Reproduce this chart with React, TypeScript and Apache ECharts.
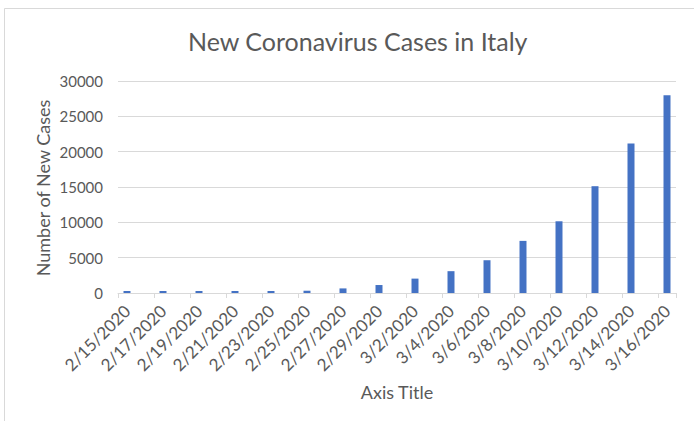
import React, { useEffect, useRef } from "react";
import * as echarts from "echarts";

const dates: string[] = [
  "2/15/2020", "2/16/2020", "2/17/2020", "2/18/2020", "2/19/2020", "2/20/2020",
  "2/21/2020", "2/22/2020", "2/23/2020", "2/24/2020", "2/25/2020", "2/26/2020",
  "2/27/2020", "2/28/2020", "2/29/2020", "3/1/2020", "3/2/2020", "3/3/2020",
  "3/4/2020", "3/5/2020", "3/6/2020", "3/7/2020", "3/8/2020", "3/9/2020",
  "3/10/2020", "3/11/2020", "3/12/2020", "3/13/2020", "3/14/2020", "3/15/2020",
  "3/16/2020",
];

const newCases: (number | null)[] = [
  3, null, 3, null, 3, null, 20, null, 155, null, 322, null, 650, null, 1128, null,
  2036, null, 3089, null, 4636, null, 7375, null, 10149, null, 15113, null, 21157, null,
  27980,
];

const chartTitle = "New Coronavirus Cases in Italy";
const yAxisTitle = "Number of New Cases";
const xAxisTitle = "Axis Title";

const FONT = "Lato";
const TEXT = "#595959";
const GRID = "#d9d9d9";

export default function App() {
  const ref = useRef<HTMLDivElement>(null);
  useEffect(() => {
    if (!ref.current) return;
    const chart = echarts.init(ref.current, null, { renderer: "svg" });
    chart.setOption({
      animation: false,
      backgroundColor: "#ffffff",
      textStyle: { fontFamily: FONT },
      title: {
        text: chartTitle,
        left: 183,
        top: 23,
        textStyle: { fontFamily: FONT, fontSize: 25, fontWeight: "normal", color: TEXT },
      },
      grid: { left: 118, right: 18, top: 81, bottom: 128 },
      xAxis: {
        type: "category",
        data: dates,
        boundaryGap: true,
        axisLine: { lineStyle: { color: GRID, width: 1 } },
        axisTick: { show: true, interval: 1, length: 5, lineStyle: { color: GRID } },
        axisLabel: {
          interval: 1,
          rotate: 45,
          fontFamily: FONT,
          fontSize: 17,
          color: TEXT,
          margin: 15,
        },
      },
      yAxis: {
        type: "value",
        min: 0,
        max: 30000,
        interval: 5000,
        axisLine: { show: false },
        axisTick: { show: false },
        splitLine: { lineStyle: { color: GRID, width: 1 } },
        axisLabel: {
          fontFamily: FONT,
          fontSize: 15,
          color: TEXT,
          margin: 15,
          formatter: (v: number) => String(v),
        },
      },
      series: [
        {
          type: "bar",
          data: newCases,
          barWidth: 7,
          barMinHeight: 2,
          itemStyle: { color: "#4472C4" },
        },
      ],
      graphic: [
        {
          type: "line",
          shape: { x1: 4.5, y1: 8.5, x2: 694, y2: 8.5 },
          style: { stroke: GRID, lineWidth: 1 },
        },
        {
          type: "line",
          shape: { x1: 4.5, y1: 8.5, x2: 4.5, y2: 421 },
          style: { stroke: GRID, lineWidth: 1 },
        },
        {
          type: "text",
          x: 43,
          y: 188,
          rotation: Math.PI / 2,
          style: {
            text: yAxisTitle,
            fontFamily: FONT,
            fontSize: 18,
            fill: TEXT,
            align: "center",
            verticalAlign: "middle",
          },
        },
        {
          type: "text",
          x: 397,
          y: 392,
          style: {
            text: xAxisTitle,
            fontFamily: FONT,
            fontSize: 18,
            fill: TEXT,
            align: "center",
            verticalAlign: "middle",
          },
        },
      ],
    });
    return () => chart.dispose();
  }, []);
  return (
    <div
      ref={ref}
      style={{ position: "fixed", left: 0, top: 0, width: 694, height: 421 }}
    />
  );
}
